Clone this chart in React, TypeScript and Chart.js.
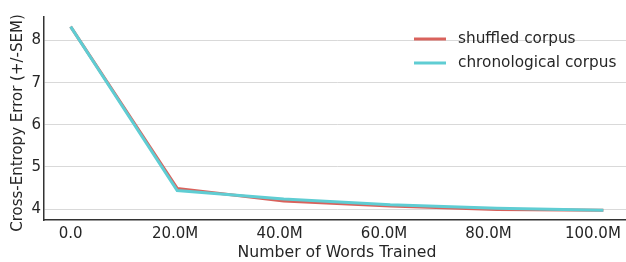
import React, { useEffect, useRef } from "react";
import { Chart, registerables } from "chart.js";

Chart.register(...registerables);

const wordsTrained = [0, 20.4e6, 40.8e6, 61.2e6, 81.6e6, 102e6];
const shuffledCorpus = [8.33, 4.49, 4.19, 4.07, 3.99, 3.97];
const chronologicalCorpus = [8.33, 4.44, 4.24, 4.1, 4.02, 3.97];
const seriesLabels = ["shuffled corpus", "chronological corpus"];
const xTickValues = [0, 20e6, 40e6, 60e6, 80e6, 100e6];
const xTickLabels = ["0.0", "20.0M", "40.0M", "60.0M", "80.0M", "100.0M"];
const yTickValues = [4, 5, 6, 7, 8];
const yTickLabels = ["4", "5", "6", "7", "8"];
const xTitle = "Number of Words Trained";
const yTitle = "Cross-Entropy Error (+/-SEM)";

const FONT = "'DejaVu Sans', sans-serif";
const TEXT = "#262626";

const overlayPlugin = {
  id: "overlay",
  afterDraw(chart: any) {
    const ctx = chart.ctx;
    const ds = chart.data.datasets;
    ctx.save();
    ctx.font = `15.3px ${FONT}`;
    ctx.textBaseline = "middle";
    ctx.textAlign = "left";
    ds.forEach((d: any, i: number) => {
      const y = 39 + i * 24;
      ctx.strokeStyle = d.borderColor;
      ctx.lineWidth = 3;
      ctx.beginPath();
      ctx.moveTo(414, y);
      ctx.lineTo(446, y);
      ctx.stroke();
      ctx.fillStyle = TEXT;
      ctx.fillText(d.label, 458, y);
    });
    // y-axis title
    ctx.font = `15px ${FONT}`;
    ctx.translate(18, 123);
    ctx.rotate(-Math.PI / 2);
    ctx.textAlign = "center";
    ctx.fillStyle = TEXT;
    ctx.fillText(yTitle, 0, 0);
    ctx.restore();
  },
};

export default function App() {
  const ref = useRef<HTMLCanvasElement>(null);
  useEffect(() => {
    document.body.style.margin = "0";
    const chart = new Chart(ref.current!, {
      type: "line",
      data: {
        datasets: [
          {
            label: seriesLabels[0],
            data: wordsTrained.map((x, i) => ({ x, y: shuffledCorpus[i] })),
            borderColor: "#d9625c",
            borderWidth: 3,
            pointRadius: 0,
            tension: 0,
            order: 1,
          },
          {
            label: seriesLabels[1],
            data: wordsTrained.map((x, i) => ({ x, y: chronologicalCorpus[i] })),
            borderColor: "#5fcdd3",
            borderWidth: 3,
            pointRadius: 0,
            tension: 0,
            order: 0,
          },
        ],
      },
      options: {
        animation: false,
        responsive: true,
        maintainAspectRatio: false,
        layout: { padding: { top: 17, right: 2, left: 0, bottom: 0 } },
        plugins: { legend: { display: false }, tooltip: { enabled: false } },
        scales: {
          x: {
            type: "linear",
            min: -5.1e6,
            max: 107.1e6,
            afterBuildTicks: (s: any) => {
              s.ticks = xTickValues.map((v) => ({ value: v }));
            },
            afterFit: (s: any) => {
              s.height = 42;
            },
            ticks: {
              autoSkip: false,
              maxRotation: 0,
              padding: 5,
              color: TEXT,
              font: { family: FONT, size: 15 },
              callback: (v: any) => xTickLabels[xTickValues.indexOf(v)] ?? "",
            },
            grid: { display: false, drawTicks: false },
            border: { display: true, color: "#333333", width: 1.5 },
            title: {
              display: true,
              text: xTitle,
              color: TEXT,
              font: { family: FONT, size: 15.7 },
              padding: { top: 0, bottom: 0 },
            },
          },
          y: {
            type: "linear",
            min: 3.74,
            max: 8.56,
            afterBuildTicks: (s: any) => {
              s.ticks = yTickValues.map((v) => ({ value: v }));
            },
            afterFit: (s: any) => {
              s.width = 44;
            },
            ticks: {
              padding: 3,
              color: TEXT,
              font: { family: FONT, size: 15 },
              callback: (v: any) => yTickLabels[yTickValues.indexOf(v)] ?? "",
            },
            grid: { color: "#d9d9d9", lineWidth: 1, drawTicks: false },
            border: { display: true, color: "#333333", width: 1.5 },
            title: { display: false },
          },
        },
      },
      plugins: [overlayPlugin],
    });
    return () => chart.destroy();
  }, []);
  return (
    <div style={{ position: "fixed", left: 0, top: 0, width: 626, height: 262, overflow: "hidden" }}>
      <div style={{ position: "relative", width: 632, height: 262 }}>
        <canvas ref={ref} />
      </div>
    </div>
  );
}
